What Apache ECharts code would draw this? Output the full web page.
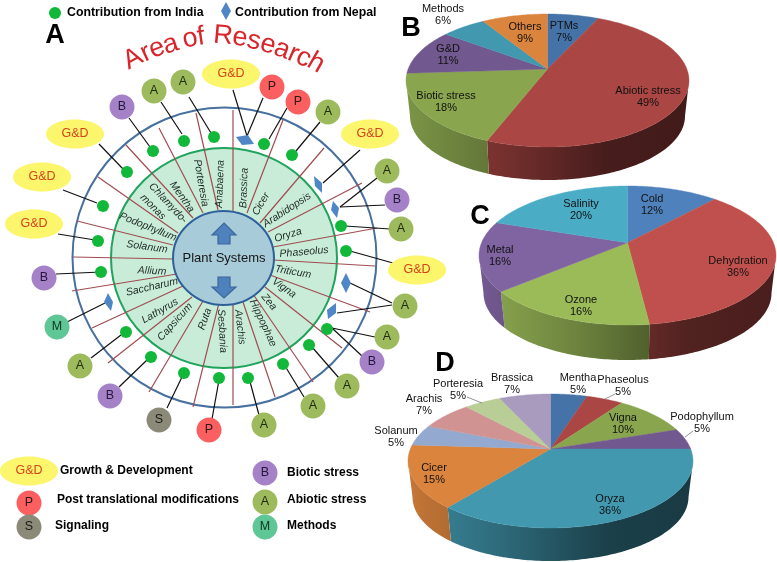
<!DOCTYPE html>
<html><head><meta charset="utf-8">
<style>html,body{margin:0;padding:0;background:#fff}#c{width:777px;height:562px}</style>
<script src="https://cdn.jsdelivr.net/npm/echarts@6/dist/echarts.min.js"></script>
</head><body><div id="c"></div>
<script>
// ---------- pie data ----------
const bCategories = ['PTMs','Abiotic stress','Biotic stress','G&D','Methods','Others'];
const bValues = [7,49,18,11,6,9];
const cCategories = ['Cold','Dehydration','Ozone','Metal','Salinity'];
const cValues = [12,36,16,16,20];
const dCategories = ['Mentha','Phaseolus','Vigna','Podophyllum','Oryza','Cicer','Solanum','Arachis','Porteresia','Brassica'];
const dValues = [5,5,10,5,36,15,5,7,5,7];
// ---------- diagram data ----------
const taxa = ['Anabaena','Porteresia','Mentha','Chlamydo-','monas','Podophyllum','Solanum','Allium','Saccharum','Lathyrus','Capsicum','Ruta','Sesbania','Arachis','Hippophae','Zea','Vigna','Triticum','Phaseolus','Oryza','Arabidopsis','Cicer','Brassica'];
const taxaPlace = [[220,184,88],[201,183,-80],[182,197,-55],[168,203,-47],[153,207,-45],[148,227,-22],[147,247,-8],[152,271,-3],[152,287,13],[160,311,30],[175,322,48],[205,319,70],[222,331,-87],[240,327,-83],[263,323,-65],[269,302,-50],[284,288,-35],[293,272,-10],[304,252,5],[288,235,17],[287,210,33],[261,204,60],[244,188,88]];
const indiaDots = [[153,151],[184,141],[214,137],[264,144],[292,155],[341,226],[127,172],[103,206],[98,241],[346,251],[101,272],[126,332],[151,357],[184,373],[219,378],[248,378],[283,364],[309,345],[327,329]];
const nepalMarks = [[245,140,0],[318,184,1],[335,209,2],[346,283,3],[332,311,4],[108,302,5]];
const badges = [
 ['G',231,74],['P',272,87],['P',298,102],['A',328,112],['G',370,134],['A',387,171],['B',397,200],['A',401,229],['G',417,270],['A',405,306],['A',387,337],['B',372,362],['A',347,386],['A',313,406],['A',264,425],['P',209,430],['S',159,420],['B',110,396],['A',80,366],['M',57,327],['B',44,278],['G',34,224],['G',42,177],['G',75,134],['B',122,107],['A',154,91],['A',183,82]];
const legendBadges = [['G',29,471],['P',29,503],['S',29,527],['B',265,473],['A',265,502],['M',265,527]];
const legendNames = ['Growth & Development','Post translational modifications','Signaling','Biotic stress','Abiotic stress','Methods'];
const legendNamePlace = [[60,471],[57,500],[55,526],[287,473],[287,500],[287,526]];
const spokes = [[233,110,233,211],[283,120,247,213],[324,148,260,223],[362,183,268,232],[377,228,273,247],[375,266,273,260],[370,312,270,275],[342,348,265,287],[313,382,253,294],[275,397,243,302],[233,405,233,304],[193,407,219,303],[149,392,203,301],[108,363,192,297],[92,328,183,286],[72,291,177,274],[73,257,173,259],[77,221,173,245],[98,177,178,233],[126,145,193,218],[159,128,203,213],[196,113,218,210]];
const leaders = [[233,90,247,136],[263,98,247,136],[287,108,269,139],[320,122,296,151],[360,150,323,183],[377,178,340,207],[385,205,340,207],[390,229,345,226],[350,251,393,263],[392,303,350,283],[392,305,337,313],[375,337,332,328],[362,356,332,328],[339,378,312,347],[304,397,285,366],[259,415,249,378],[212,419,219,380],[167,408,182,377],[119,387,147,360],[91,358,121,335],[67,322,105,303],[56,274,101,272],[58,234,95,240],[63,190,97,203],[99,144,124,170],[129,118,150,147],[161,102,182,134],[189,97,211,133]];
const titleLetters = ['A','r','e','a','o','f','R','e','s','e','a','r','c','h'];
const titlePlace = [[133,59,28],[146,53,25],[157,48.5,22],[170.5,44.5,18],[190,39,12],[201,37,8],[223,36,-5],[240,38,-8],[254,41,-12],[268,45,-16],[282,49.5,-20],[293.5,54,-24],[303.5,58,-26],[316,63,-30]];
const panelLetters = ['A','B','C','D'];
const panelPlace = [[55,36],[411,29],[480,217],[445,364]];
// ---------- layout and style ----------
const FONT = '"Liberation Sans", Arial, sans-serif';
const badgeStyle = {
 G:{text:'G&D',fill:'#fbf66c',ink:'#d5431c',rx:29,ry:14.5},
 P:{text:'P',fill:'#fb5f60',ink:'#2a1a1a',rx:12.5,ry:12.5},
 A:{text:'A',fill:'#9dbb5c',ink:'#1f2a10',rx:12.5,ry:12.5},
 B:{text:'B',fill:'#a581c8',ink:'#231637',rx:12.5,ry:12.5},
 S:{text:'S',fill:'#8b8a78',ink:'#1c1c14',rx:12.5,ry:12.5},
 M:{text:'M',fill:'#5fc795',ink:'#123322',rx:12.5,ry:12.5}};
const nepalShapes = [
 [[-9,-3],[3,-5],[9,4],[-3,5]],[[-4,-8],[4,-1],[4,9],[-3,2]],[[-2,-8],[4,-1],[2,9],[-4,1]],
 [[0,-10],[5,0],[0,10],[-5,0]],[[-5,-1],[4,-8],[4,2],[-4,8]],[[-4,0],[0,-9],[5,0],[3,9]],[[0,-9],[5,0],[0,9],[-5,0]]];
const rings = [[224.5,257.5,152,150,'none','#47709e'],[224,258,113,110,'#c9ecd8','#1fa35d'],[223.5,258,50.5,47,'#a8cbd9','#2f5f9a']];
const arrowUp = [[224,223],[236,235],[230,235],[230,244],[218,244],[218,235],[212,235]];
const arrowDown = [[218,277],[230,277],[230,287],[236,287],[224,298],[212,287],[218,287]];
const pieFrames = {
 b:{cx:547.5,cy:80.5,rx:141.5,ry:66.5,ax:547.5,ay:69,rx2:137.5,ry2:64,cy2:116,
    colors:['#4572a7','#aa4643','#89a54e','#71588f','#4198af','#db843d']},
 c:{cx:627.5,cy:255.5,rx:148.5,ry:69.5,ax:627.5,ay:242.7,rx2:144,ry2:67,cy2:293,
    colors:['#4f81bd','#c0504d','#9bbb59','#8064a2','#4bacc6']},
 d:{cx:550.5,cy:461,rx:142.5,ry:67,ax:550.5,ay:449,rx2:138,ry2:64,cy2:497,
    colors:['#4572a7','#aa4643','#89a54e','#71588f','#4198af','#db843d','#93a9cf','#d19392','#b9cd96','#a99bbd']}};
const bLabelPlace = [[564,32],[648,97],[446,102],[448,55],[443,15],[525,33]];
const cLabelPlace = [[652,205],[738,267],[581,306],[500,256],[581,210]];
const dLabelPlace = [[578,384],[623,386],[623,424],[702,423],[610,505],[434,474],[396,437],[424,405],[458,390],[512,384]];
const dCallouts = [[467,397,482,403],[605,399,615,394],[685,437,693,431]];

function shade(hex,f){const n=parseInt(hex.slice(1),16);
 const r=Math.round((n>>16&255)*f),g=Math.round((n>>8&255)*f),b=Math.round((n&255)*f);
 return `rgb(${r},${g},${b})`;}
function rimPoint(F,deg){
 const th=deg*Math.PI/180,k=F.ry/F.rx,dx=Math.sin(th),dy=-Math.cos(th)*k,ox=F.ax-F.cx,oy=F.ay-F.cy;
 const A=dx*dx/(F.rx*F.rx)+dy*dy/(F.ry*F.ry),B=2*(ox*dx/(F.rx*F.rx)+oy*dy/(F.ry*F.ry)),C=ox*ox/(F.rx*F.rx)+oy*oy/(F.ry*F.ry)-1;
 const t=(-B+Math.sqrt(B*B-4*A*C))/(2*A);
 return [F.ax+t*dx,F.ay+t*dy];
}
function pieSeries(values,F){
 const total=values.reduce((a,b)=>a+b,0);
 return {type:'custom',coordinateSystem:'cartesian2d',clip:false,silent:true,z:2,
  data:values.map(v=>[v]),encode:{x:-1,y:-1},
  renderItem(params,api){
   const i=params.dataIndex;let before=0;for(let j=0;j<i;j++)before+=values[j];
   const a0=before/total*360,a1=(before+api.value(0))/total*360;
   const rim=[],top=[],low=[];let visible=false;
   for(let a=a0;;a=Math.min(a+1,a1)){
    const p=rimPoint(F,a);rim.push(p);
    const u=(p[0]-F.cx)/F.rx,v=(p[1]-F.cy)/F.ry;
    if(v>=0){visible=true;top.push(p);low.push([F.cx+u*F.rx2,F.cy2+v*F.ry2]);}
    else{const s=u>=0?1:-1;top.push([F.cx+s*F.rx,F.cy]);low.push([F.cx+s*F.rx2,F.cy2]);}
    if(a>=a1)break;
   }
   const col=F.colors[i],kids=[];
   if(visible){
    const stops=[[0,.9],[.33,.7],[.7,.42],[1,.38]].map(s=>({offset:s[0],color:shade(col,s[1])}));
    kids.push({type:'polygon',shape:{points:top.concat(low.reverse()).map(p=>api.coord(p))},
     style:{fill:new echarts.graphic.LinearGradient(F.cx-F.rx,0,F.cx+F.rx,0,stops,true)}});
   }
   kids.push({type:'polygon',shape:{points:[[F.ax,F.ay]].concat(rim).map(p=>api.coord(p))},
    style:{fill:col,stroke:col,lineWidth:.4}});
   return {type:'group',children:kids};
  }};
}
function textSeries(strings,places,style,z){
 return {type:'custom',coordinateSystem:'cartesian2d',clip:false,silent:true,z:z||6,
  data:places.map(p=>[p[0],p[1]]),encode:{x:0,y:1},
  renderItem(params,api){
   const i=params.dataIndex,p=api.coord([api.value(0),api.value(1)]),pl=places[i];
   return {type:'text',x:p[0],y:p[1],rotation:(pl[2]||0)*Math.PI/180,
    style:Object.assign({text:strings[i],align:'center',verticalAlign:'middle',fill:'#111',font:'11px '+FONT},style)};
  }};
}
function segSeries(segs,color,width,z){
 return {type:'custom',coordinateSystem:'cartesian2d',clip:false,silent:true,z:z,
  data:segs,encode:{x:[0,2],y:[1,3]},
  renderItem(params,api){
   const a=api.coord([api.value(0),api.value(1)]),b=api.coord([api.value(2),api.value(3)]);
   return {type:'line',shape:{x1:a[0],y1:a[1],x2:b[0],y2:b[1]},style:{stroke:color,lineWidth:width}};
  }};
}
function polySeries(list,fill,stroke,z){
 return {type:'custom',coordinateSystem:'cartesian2d',clip:false,silent:true,z:z,
  data:list.map((_,i)=>[i]),encode:{x:-1,y:-1},
  renderItem(params,api){
   return {type:'polygon',shape:{points:list[params.dataIndex].map(p=>api.coord(p))},
    style:{fill:fill,stroke:stroke,lineWidth:stroke?1.2:0}};
  }};
}
function badgeSeries(items){
 return {type:'custom',coordinateSystem:'cartesian2d',clip:false,silent:true,z:5,
  data:items.map(b=>[b[1],b[2]]),encode:{x:0,y:1},
  renderItem(params,api){
   const s=badgeStyle[items[params.dataIndex][0]],p=api.coord([api.value(0),api.value(1)]);
   return {type:'group',children:[
    {type:'ellipse',shape:{cx:p[0],cy:p[1],rx:s.rx,ry:s.ry},style:{fill:s.fill}},
    {type:'text',x:p[0],y:p[1],style:{text:s.text,align:'center',verticalAlign:'middle',fill:s.ink,font:'12.5px '+FONT}}]};
  }};
}
const legendDiamond = [nepalShapes[6].map(o=>[226+o[0],11+o[1]])];
const nepalPolys = nepalMarks.map(m=>nepalShapes[m[2]].map(o=>[m[0]+o[0],m[1]+o[1]]));

const series = [
 {type:'custom',coordinateSystem:'cartesian2d',clip:false,silent:true,z:1,
  data:rings.slice(0,2).map(r=>[r[0],r[1]]),encode:{x:0,y:1},
  renderItem(params,api){const r=rings[params.dataIndex],p=api.coord([api.value(0),api.value(1)]);
   return {type:'ellipse',shape:{cx:p[0],cy:p[1],rx:r[2],ry:r[3]},
    style:{fill:r[4],stroke:r[5],lineWidth:2}};}},
 segSeries(spokes,'#a04c52',1.2,1),
 {type:'custom',coordinateSystem:'cartesian2d',clip:false,silent:true,z:2,
  data:[[223.5,258]],encode:{x:0,y:1},
  renderItem(params,api){const r=rings[2],p=api.coord([api.value(0),api.value(1)]);
   return {type:'ellipse',shape:{cx:p[0],cy:p[1],rx:r[2],ry:r[3]},style:{fill:r[4],stroke:r[5],lineWidth:2}};}},
 polySeries([arrowUp,arrowDown],'#4f81bd','#3a679e',3),
 textSeries(['Plant Systems'],[[224,258]],{font:'13px '+FONT,fill:'#151515'},4),
 textSeries(taxa,taxaPlace,{font:'italic 10.5px '+FONT,fill:'#1e2a24'},4),
 segSeries(leaders,'#111',1.2,3),
 {type:'scatter',coordinateSystem:'cartesian2d',data:indiaDots,symbol:'circle',symbolSize:12,silent:true,z:4,
  itemStyle:{color:'#12b83a',opacity:1}},
 polySeries(nepalPolys,'#4f86c6',null,4),
 badgeSeries(badges),
 badgeSeries(legendBadges),
 textSeries(titleLetters,titlePlace,{font:'27px '+FONT,fill:'#d9252a'}),
 textSeries(panelLetters,panelPlace,{font:'bold 27px '+FONT,fill:'#000'}),
 {type:'scatter',coordinateSystem:'cartesian2d',data:[[55,13]],symbol:'circle',symbolSize:12,silent:true,z:4,itemStyle:{color:'#12b83a',opacity:1}},
 polySeries(legendDiamond,'#4f86c6',null,4),
 textSeries(['Contribution from India','Contribution from Nepal'],[[67,13],[235,13]],{font:'bold 12.3px '+FONT,fill:'#000',align:'left'}),
 textSeries(legendNames,legendNamePlace,{font:'bold 12px '+FONT,fill:'#000',align:'left'}),
 pieSeries(bValues,pieFrames.b),
 pieSeries(cValues,pieFrames.c),
 pieSeries(dValues,pieFrames.d),
 textSeries(bCategories.map((n,i)=>n+'\n'+bValues[i]+'%'),bLabelPlace,{lineHeight:12}),
 textSeries(cCategories.map((n,i)=>n+'\n'+cValues[i]+'%'),cLabelPlace,{lineHeight:12}),
 textSeries(dCategories.map((n,i)=>n+'\n'+dValues[i]+'%'),dLabelPlace,{lineHeight:12}),
 segSeries(dCallouts,'#777',.8,5)
];
const chart = echarts.init(document.getElementById('c'),null,{renderer:'canvas'});
chart.setOption({animation:false,backgroundColor:'#fff',
 grid:{left:0,right:0,top:0,bottom:0,containLabel:false},
 xAxis:{type:'value',min:0,max:777,show:false},
 yAxis:{type:'value',min:0,max:562,inverse:true,show:false},
 series});
</script></body></html>
